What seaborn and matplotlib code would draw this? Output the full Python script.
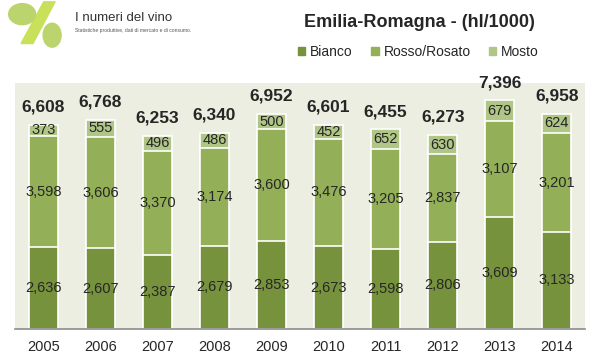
import matplotlib.pyplot as plt
import matplotlib.patches as mpatches
import seaborn as sns
import pandas as pd

# data (hl/1000)
anni = ["2005", "2006", "2007", "2008", "2009", "2010", "2011", "2012", "2013", "2014"]
bianco = [2636, 2607, 2387, 2679, 2853, 2673, 2598, 2806, 3609, 3133]
rosso = [3598, 3606, 3370, 3174, 3600, 3476, 3205, 2837, 3107, 3201]
mosto = [373, 555, 496, 486, 500, 452, 652, 630, 679, 624]
totali = [6608, 6768, 6253, 6340, 6952, 6601, 6455, 6273, 7396, 6958]

c_bianco = "#77923c"
c_rosso = "#93b058"
c_mosto = "#afc686"
bg = "#ebeee0"

df = pd.DataFrame({"anno": anni, "bianco": bianco, "rosso": rosso, "mosto": mosto})
df["br"] = df["bianco"] + df["rosso"]
df["tot"] = df["br"] + df["mosto"]

sns.set_style("white")
plt.rcParams["font.family"] = ["Liberation Sans", "DejaVu Sans"]

fig = plt.figure(figsize=(5.99, 3.63), dpi=100)
ax = fig.add_axes([0.025, 0.094, 0.952, 0.678])
ax.set_facecolor(bg)

# stacked bars: draw cumulative heights from the top down
for col, colore in [("tot", c_mosto), ("br", c_rosso), ("bianco", c_bianco)]:
    sns.barplot(data=df, x="anno", y=col, color=colore, width=0.5,
                edgecolor="white", linewidth=1.2, saturation=1, ax=ax)

ax.set_ylim(0, 7960)
ax.set_xlabel("")
ax.set_ylabel("")
ax.set_yticks([])
ax.tick_params(axis="x", length=0, labelsize=10.5, pad=8)
for s in ["top", "right", "left"]:
    ax.spines[s].set_visible(False)
ax.spines["bottom"].set_color("#8c8c8c")
ax.spines["bottom"].set_linewidth(1.2)

# segment labels
for i in range(len(anni)):
    ax.text(i, bianco[i] / 2, f"{bianco[i]:,}", ha="center", va="center", fontsize=10.5)
    ax.text(i, bianco[i] + rosso[i] / 2, f"{rosso[i]:,}", ha="center", va="center", fontsize=10.5)
    ax.text(i, bianco[i] + rosso[i] + mosto[i] / 2, f"{mosto[i]:,}", ha="center", va="center", fontsize=10.5)
    ax.text(i, df["tot"][i] + 330, f"{totali[i]:,}", ha="center", va="bottom",
            fontsize=12.5, fontweight="bold")

# title and legend
fig.text(0.508, 0.937, "Emilia-Romagna - (hl/1000)", fontsize=13, fontweight="bold",
         ha="left", va="center")
handles = [mpatches.Patch(color=c) for c in (c_bianco, c_rosso, c_mosto)]
fig.legend(handles, ["Bianco", "Rosso/Rosato", "Mosto"], loc="center left",
           bbox_to_anchor=(0.497, 0.857), ncol=3, frameon=False, fontsize=10,
           handlelength=0.55, handleheight=0.55, handletextpad=0.35, columnspacing=1.3,
           borderpad=0, borderaxespad=0)

# logo, roughly
fig.patches.append(mpatches.Polygon([[0.035, 0.88], [0.055, 0.88], [0.092, 0.995], [0.073, 0.995]],
                                    closed=True, transform=fig.transFigure,
                                    color="#c8e05a", zorder=0))
fig.patches.append(mpatches.Ellipse((0.037, 0.961), 0.045, 0.058, transform=fig.transFigure,
                                    color="#bcd46e", zorder=1))
fig.patches.append(mpatches.Ellipse((0.087, 0.903), 0.03, 0.066, transform=fig.transFigure,
                                    color="#bcd46e", zorder=1))
fig.text(0.125, 0.95, "I numeri del vino", fontsize=9.5, color="#333333", ha="left", va="center")
fig.text(0.125, 0.915, "Statistiche produttive, dati di mercato e di consumo.", fontsize=3.6,
         color="#555555", ha="left", va="center")

fig.savefig("out.png", dpi=100)
